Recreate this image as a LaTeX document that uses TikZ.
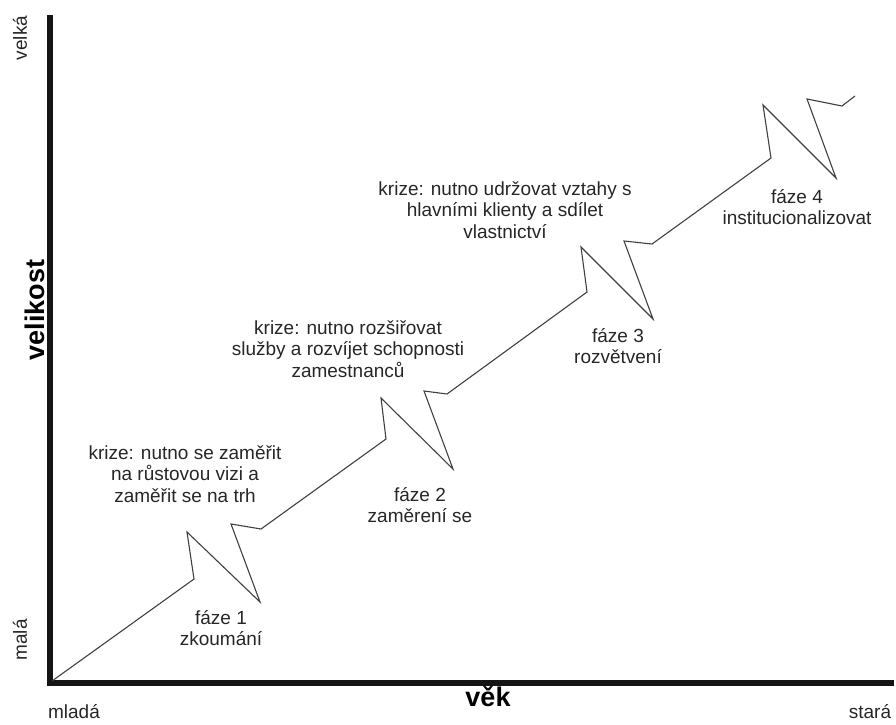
\documentclass[tikz,border=0pt]{standalone}
\usepackage{fontspec}
\setmainfont{Liberation Sans}
\begin{document}
\begin{tikzpicture}[x=1pt,y=-1pt,
  lbl/.style={inner sep=0pt,align=center,text=black!85,font=\fontsize{19}{21.5}\selectfont},
  axlbl/.style={inner sep=0pt,text=black!85,font=\fontsize{19}{21}\selectfont},
  axtitle/.style={inner sep=0pt,text=black,font=\fontsize{27}{30}\selectfont\bfseries},
  axis/.style={line width=6pt,black!92},
  growth/.style={line width=1.1pt,black!75,line join=miter}]
\useasboundingbox (0,0) rectangle (896,724);

% axes
\draw[axis] (50,15) -- (50,683) -- (894,683);

% growth curve with four crises
\draw[growth] (52,681) -- (194,579) -- (187,532) -- (260,602) -- (231,524) -- (261,529)
  -- (386,439) -- (381,398) -- (453,469) -- (424,391) -- (447,394)
  -- (587,292) -- (581,247) -- (653,319) -- (624,241) -- (652,244)
  -- (771,158) -- (763,105) -- (836,178) -- (807,99) -- (842,106) -- (855,96);

% axis labels
\node[axlbl,rotate=90] (velka) at (20,38) {velká};
\node[axlbl,rotate=90] (mala) at (20,640) {malá};
\node[axlbl] (mlada) at (74,712) {mladá};
\node[axlbl] (stara) at (870,712) {stará};
\node[axtitle,rotate=90] (velikost) at (35,310) {velikost};
\node[axtitle] (vek) at (488,697) {věk};

% phases
\node[lbl] (f1) at (221,628) {fáze 1\\zkoumání};
\node[lbl] (f2) at (420,505) {fáze 2\\zaměrení se};
\node[lbl] (f3) at (618,346) {fáze 3\\rozvětvení};
\node[lbl] (f4) at (797,207) {fáze 4\\institucionalizovat};

% crises
\node[lbl] (k1) at (185,474) {krize: nutno se zaměřit\\na růstovou vizi a\\zaměřit se na trh};
\node[lbl] (k2) at (348,349) {krize: nutno rozšiřovat\\služby a rozvíjet schopnosti\\zamestnanců};
\node[lbl] (k3) at (505,210) {krize: nutno udržovat vztahy s\\hlavními klienty a sdílet\\vlastnictví};
\end{tikzpicture}
\end{document}
